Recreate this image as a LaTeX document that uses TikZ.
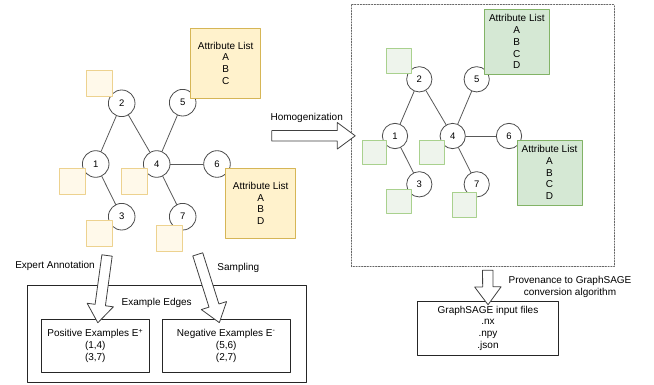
\documentclass[tikz,border=0pt]{standalone}
\usepackage{fontspec}
\setmainfont{Liberation Sans}
\usetikzlibrary{calc,positioning,shapes.arrows}

\definecolor{attrfill}{HTML}{FFF2CC}
\definecolor{attrline}{HTML}{D6B656}
\definecolor{featfill}{HTML}{FFF9EA}
\definecolor{featline}{HTML}{EDD28F}
\definecolor{gattrfill}{HTML}{D5E8D4}
\definecolor{gattrline}{HTML}{82B366}
\definecolor{gfeatfill}{HTML}{EEF4EC}
\definecolor{gfeatline}{HTML}{A9D18E}

% hollow block arrow between two points
\newcommand{\blockarrow}[2]{%
  \path let \p1=(#1), \p2=(#2),
    \n1={veclen(\x2-\x1,\y2-\y1)}, \n2={atan2(\y2-\y1,\x2-\x1)} in
    node[hollow arrow, minimum height=\n1, rotate=\n2] at ($(#1)!0.5!(#2)$) {};}

\begin{document}
\begin{tikzpicture}[x=1pt,y=-1pt,line cap=round,line join=round,
  font=\fontsize{10}{11.8}\selectfont]
\tikzset{
  vertex/.style={circle, draw=black!70, fill=white, line width=0.8pt,
    minimum size=26.6pt, inner sep=0pt, font=\fontsize{9.5}{10}\selectfont},
  gvertex/.style={vertex, minimum size=25.3pt},
  edge/.style={draw=black!65, line width=0.8pt},
  feat/.style={rectangle, draw=featline, fill=featfill, line width=0.8pt,
    minimum size=26pt, inner sep=0pt},
  gfeat/.style={feat, draw=gfeatline, fill=gfeatfill, minimum size=24.6pt},
  attr/.style={rectangle, draw=attrline, fill=attrfill, line width=0.8pt,
    minimum size=70pt, inner sep=0pt, align=center},
  gattr/.style={attr, draw=gattrline, fill=gattrfill, minimum size=65pt},
  box/.style={rectangle, draw=black!85, line width=0.8pt, inner sep=0pt, align=center},
  hollow arrow/.style={single arrow, draw=black!75, fill=white, line width=0.8pt,
    inner sep=4.2pt, minimum width=26.5pt, single arrow head indent=0pt,
    single arrow tip angle=73},
  lbl/.style={inner sep=0pt, align=center}
}
\useasboundingbox (0,0) rectangle (654,385);

% input graph
\foreach \n/\x/\y in {1/95.7/164, 2/121.7/103.3, 3/121.7/216.7, 4/156.7/164,
                      5/182.7/102.7, 6/217/164, 7/182.7/216.7}
  \node[vertex] (l\n) at (\x,\y) {\n};
\foreach \a/\b in {2/1, 2/4, 5/4, 4/6, 1/3, 4/7}
  \draw[edge] (l\a) -- (l\b);
\foreach \n/\x/\y in {1/72.7/181.3, 2/99.2/83.3, 3/99.2/233.7, 4/134/181.3, 7/169/238.2}
  \node[feat] (lf\n) at (\x,\y) {};
\node[attr] (la5) at (225.7,63.3) {Attribute List\\A\\B\\C};
\node[attr] (la6) at (260.7,203.3) {Attribute List\\A\\B\\D};

% homogenized graph
\draw[draw=black!60, line width=1pt, dash pattern=on 1.2pt off 1.6pt]
  (351.7,5) rectangle (614.3,266.7);
\coordinate (frameW) at (351.7,135.8);
\coordinate (frameS) at (487.7,266.7);
\foreach \n/\x/\y in {1/395/136, 2/419.3/79.3, 3/419.3/184.3, 4/452.7/136,
                      5/476.7/79.3, 6/509/136, 7/476.7/184.3}
  \node[gvertex] (r\n) at (\x,\y) {\n};
\foreach \a/\b in {2/1, 2/4, 5/4, 4/6, 1/3, 4/7}
  \draw[edge] (r\a) -- (r\b);
\foreach \n/\x/\y in {1/374.2/152.5, 2/398.8/61.2, 3/398.8/201.3, 4/431.7/152.5, 7/464.2/205.2}
  \node[gfeat] (rf\n) at (\x,\y) {};
\node[gattr] (ra5) at (516.8,41.7) {Attribute List\\A\\B\\C\\D};
\node[gattr] (ra6) at (549.5,172.5) {Attribute List\\A\\B\\C\\D};

% homogenization step
\coordinate (homA) at (268.3,135.8);
\blockarrow{homA}{frameW}
\node[lbl] at (306.7,117.7) {Homogenization};

% example edges
\draw[box] (27.3,285) rectangle (306.7,382.7);
\node[lbl] (exlbl) at (156.7,303.3) {Example Edges};
\node[box, minimum width=107.3pt, minimum height=53pt] (pos) at (95.3,345.8)
  {Positive Examples E\textsuperscript{+}\\(1,4)\\(3,7)};
\node[box, minimum width=127.7pt, minimum height=53pt] (neg) at (226.2,345.8)
  {Negative Examples E\textsuperscript{-}\\(5,6)\\(2,7)};
\coordinate (annA) at (107.5,252);
\coordinate (annB) at (98.3,319.3);
\coordinate (smpA) at (196.7,251);
\coordinate (smpB) at (218.3,319.3);
\blockarrow{annA}{annB}
\blockarrow{smpA}{smpB}
\node[lbl] at (55,266) {Expert Annotation};
\node[lbl] at (238.3,268.3) {Sampling};

% conversion output
\node[box, minimum width=140.6pt, minimum height=53.3pt] (files) at (488,328.3)
  {GraphSAGE input files\\.nx\\.npy\\.json};
\blockarrow{frameS}{files.north}
\node[lbl] at (570,286.7) {Provenance to GraphSAGE\\conversion algorithm};

\end{tikzpicture}
\end{document}
